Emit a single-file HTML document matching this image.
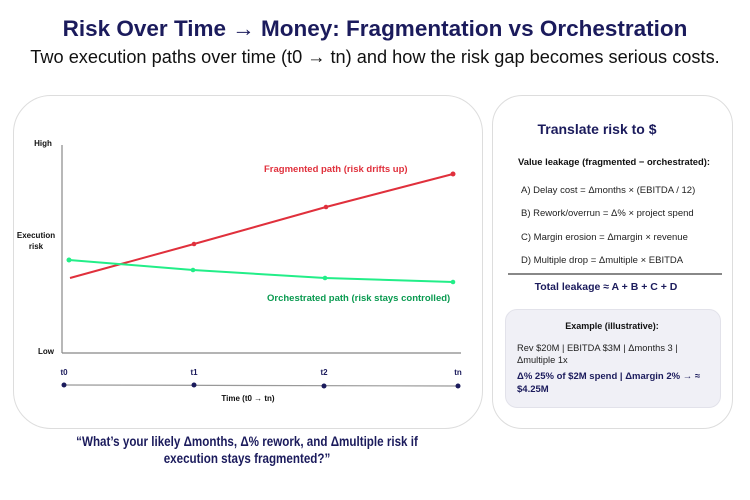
<!DOCTYPE html>
<html><head><meta charset="utf-8"><style>
body{margin:0;width:750px;height:500px;background:#fff;font-family:"Liberation Sans",sans-serif;position:relative;overflow:hidden}
.a{position:absolute;white-space:nowrap}
.n{color:#1b1b5c}
</style></head><body>
<div class="a n" style="left:0;width:750px;top:16px;text-align:center;font-size:22.5px;font-weight:bold">Risk Over Time → Money: Fragmentation vs Orchestration</div>
<div class="a" style="left:0;width:750px;top:47px;text-align:center;font-size:18.2px;color:#111">Two execution paths over time (t0 → tn) and how the risk gap becomes serious costs.</div>
<div class="a" style="left:13px;top:95px;width:468px;height:332px;border:1px solid #ddd;border-radius:38px"></div>
<div class="a" style="left:492px;top:95px;width:239px;height:332px;border:1px solid #ddd;border-radius:30px"></div>
<svg class="a" style="left:0;top:0" width="750" height="500">
<g font-family="Liberation Sans,sans-serif" font-weight="bold" font-size="8" fill="#111">
<text x="43" y="146" text-anchor="middle">High</text>
<text x="46" y="354" text-anchor="middle">Low</text>
<text x="36" y="238" text-anchor="middle">Execution</text>
<text x="36" y="249" text-anchor="middle">risk</text>
<text x="64" y="375" text-anchor="middle" fill="#1b1b5c">t0</text>
<text x="194" y="375" text-anchor="middle" fill="#1b1b5c">t1</text>
<text x="324" y="375" text-anchor="middle" fill="#1b1b5c">t2</text>
<text x="458" y="375" text-anchor="middle" fill="#1b1b5c">tn</text>
<text x="248" y="401" text-anchor="middle">Time (t0 → tn)</text>
<text x="264" y="172" fill="#e0303c" font-size="9.5">Fragmented path (risk drifts up)</text>
<text x="267" y="301" fill="#0a9a50" font-size="9.5">Orchestrated path (risk stays controlled)</text>
</g>
<line x1="62" y1="145" x2="62" y2="353" stroke="#888" stroke-width="1.2"/>
<line x1="62" y1="353" x2="461" y2="353" stroke="#888" stroke-width="1.2"/>
<line x1="64" y1="385" x2="458" y2="386" stroke="#999" stroke-width="1.2"/>
<g fill="#1b1b5c"><circle cx="64" cy="385" r="2.5"/><circle cx="194" cy="385" r="2.5"/><circle cx="324" cy="386" r="2.5"/><circle cx="458" cy="386" r="2.5"/></g>
<polyline points="70,278 194,244 326,207 453,174" fill="none" stroke="#e0303c" stroke-width="2"/>
<g fill="#e0303c"><circle cx="194" cy="244" r="2.3"/><circle cx="326" cy="207" r="2.3"/><circle cx="453" cy="174" r="2.5"/></g>
<polyline points="69,260 193,270 325,278 453,282" fill="none" stroke="#22ee88" stroke-width="2"/>
<g fill="#22ee88"><circle cx="69" cy="260" r="2.5"/><circle cx="193" cy="270" r="2.3"/><circle cx="325" cy="278" r="2.3"/><circle cx="453" cy="282" r="2.3"/></g>
<line x1="508" y1="274" x2="722" y2="274" stroke="#111" stroke-width="1"/>
</svg>
<div class="a n" style="left:492px;width:210px;top:121px;text-align:center;font-size:14px;font-weight:bold">Translate risk to $</div>
<div class="a" style="left:518px;top:156px;font-size:9.4px;font-weight:bold;color:#111">Value leakage (fragmented − orchestrated):</div>
<div class="a" style="left:521px;top:179px;font-size:9.5px;color:#222;line-height:23.3px">A) Delay cost = Δmonths × (EBITDA / 12)<br>B) Rework/overrun = Δ% × project spend<br>C) Margin erosion = Δmargin × revenue<br>D) Multiple drop = Δmultiple × EBITDA</div>
<div class="a n" style="left:501px;width:210px;top:281px;text-align:center;font-size:10.5px;font-weight:bold">Total leakage ≈ A + B + C + D</div>
<div class="a" style="left:505px;top:309px;width:214px;height:97px;background:#f0f0f6;border:1px solid #e2e2ea;border-radius:12px"></div>
<div class="a" style="left:505px;width:214px;top:321px;text-align:center;font-size:9px;font-weight:bold;color:#111">Example (illustrative):</div>
<div class="a" style="left:517px;top:343px;font-size:9.3px;color:#222;line-height:11.5px">Rev $20M | EBITDA $3M | Δmonths 3 |<br>Δmultiple 1x</div>
<div class="a n" style="left:517px;top:371px;font-size:9.5px;font-weight:bold;line-height:12.5px">Δ% 25% of $2M spend | Δmargin 2% → ≈<br>$4.25M</div>
<div class="a n" style="left:0;width:494px;top:433px;text-align:center;font-size:14px;font-weight:bold;line-height:17px;transform:scaleX(0.83);transform-origin:247px 0">“What’s your likely Δmonths, Δ% rework, and Δmultiple risk if<br>execution stays fragmented?”</div>
</body></html>
